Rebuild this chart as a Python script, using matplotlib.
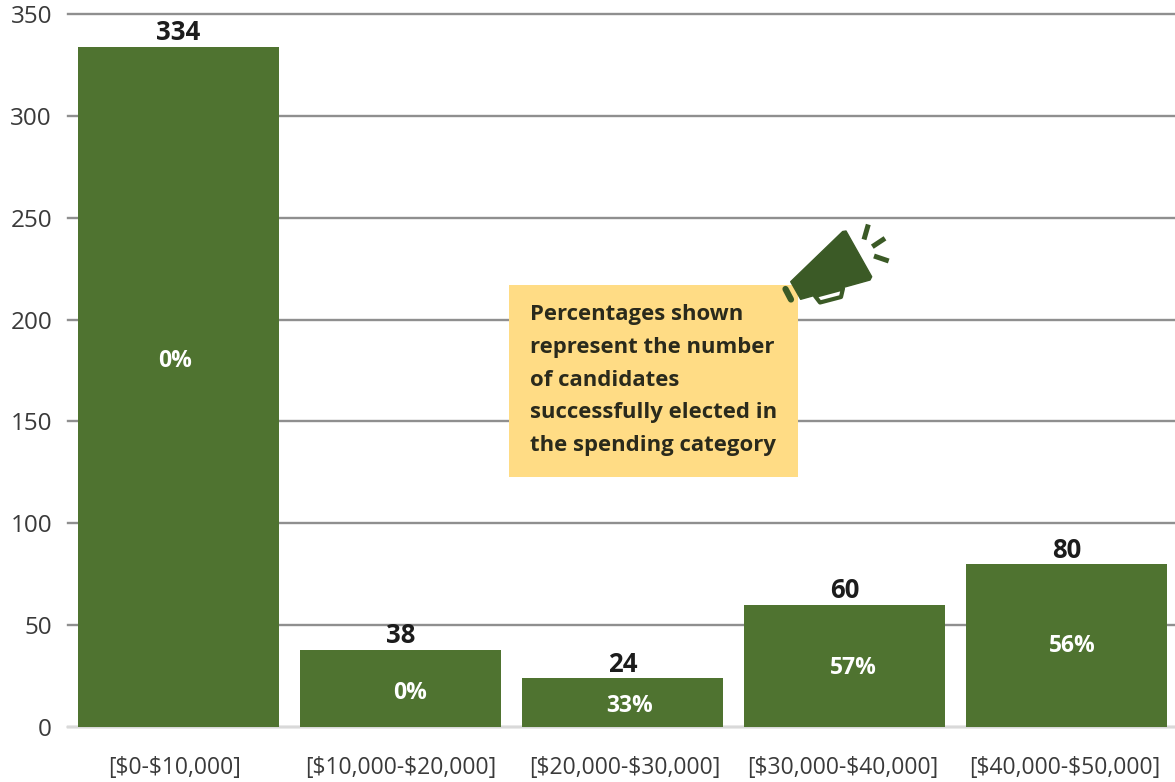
""" Candidates by campaign spending category, with share elected """

import matplotlib
matplotlib.use("Agg")
import matplotlib.pyplot as plt
from matplotlib.patches import Polygon, Rectangle

categories = ["[$0-$10,000]", "[$10,000-$20,000]", "[$20,000-$30,000]",
              "[$30,000-$40,000]", "[$40,000-$50,000]"]
candidates = [334, 38, 24, 60, 80]
electedPct = ["0%", "0%", "33%", "57%", "56%"]
yTicks = [0, 50, 100, 150, 200, 250, 300, 350]
noteLines = ["Percentages shown", "represent the number", "of candidates",
             "successfully elected in", "the spending category"]

# where the percentage labels sit inside each bar
pctHeights = [179.5, 16.5, 10.5, 29, 40]
pctOffsets = [-3, 10, 7, 9, 6]
# category labels are not quite centred under their bars
labelOffsets = [-4, 0, 2, -2, -2]

GREEN = "#4f7330"
DARK = "#3b5a26"
WIDTH = 1175
HEIGHT = 782

plt.rcParams["font.family"] = ["Open Sans", "DejaVu Sans"]
plt.rcParams["text.parse_math"] = False

fig = plt.figure(figsize=(WIDTH / 100, HEIGHT / 100), dpi=100)
ax = fig.add_axes([68 / WIDTH, 1 - 727 / HEIGHT, (WIDTH - 68) / WIDTH, 713 / HEIGHT])

positions = list(range(len(categories)))
ax.bar(positions, candidates, width=0.905, color=GREEN, zorder=3)
ax.set_xlim(-0.498, 4.49)
ax.set_ylim(0, 350)

ax.set_yticks(yTicks)
ax.set_xticks(positions)
ax.set_xticklabels([])
ax.tick_params(axis="y", length=0, pad=11.5, labelsize=17.5, labelcolor="#3a3a3a")
ax.tick_params(axis="x", length=0)
ax.grid(axis="y", color="#8f8f8f", linewidth=1.7, zorder=1)
for gridLine in ax.yaxis.get_gridlines():
    gridLine.set_clip_on(False)
for side in ["top", "right", "left"]:
    ax.spines[side].set_visible(False)
ax.spines["bottom"].set_color("#d9d9d9")
ax.spines["bottom"].set_linewidth(1.5)

for x, label, dx in zip(positions, categories, labelOffsets):
    ax.annotate(label, xy=(x, 0), xytext=(dx, -41), textcoords="offset pixels",
                ha="center", va="center", fontsize=16.5, color="#3a3a3a",
                annotation_clip=False)

for x, count, pct, pctY, dx in zip(positions, candidates, electedPct, pctHeights, pctOffsets):
    ax.annotate(str(count), xy=(x, count), xytext=(0, 14), textcoords="offset pixels",
                ha="center", va="center", fontsize=18.5, fontweight="bold",
                color="#1c1c1c", zorder=5, annotation_clip=False)
    ax.annotate(pct, xy=(x, pctY), xytext=(dx, 0), textcoords="offset pixels",
                ha="center", va="center", fontsize=16.5, fontweight="bold",
                color="white", zorder=5)

# overlay in picture pixels for the note and the megaphone icon
overlay = fig.add_axes([0, 0, 1, 1], facecolor="none")
overlay.set_xlim(0, WIDTH)
overlay.set_ylim(HEIGHT, 0)
overlay.axis("off")

overlay.add_patch(Rectangle((509, 285), 289, 192, facecolor="#ffdc85", edgecolor="none", zorder=2))
for i, line in enumerate(noteLines):
    overlay.text(530, 314.5 + i * 32.8, line, ha="left", va="center", fontsize=15.9,
                 fontweight="bold", color="#2a2a1c", zorder=3)

overlay.add_patch(Polygon([(790.7, 281.7), (842.7, 231.5), (846, 231), (871.7, 276.7),
                           (870, 280), (800.7, 299.3)],
                          closed=True, facecolor=DARK, edgecolor=DARK, linewidth=1,
                          joinstyle="round", zorder=4))
overlay.add_patch(Polygon([(815, 296), (820, 302.5), (841, 297), (843, 288.5)],
                          closed=True, facecolor="white", edgecolor=DARK, linewidth=3,
                          joinstyle="round", zorder=3))
overlay.plot([785.5, 791], [289, 299.5], color=DARK, linewidth=4.5, solid_capstyle="round", zorder=4)
overlay.plot([868.3, 864], [224.5, 239.5], color=DARK, linewidth=3.6, solid_capstyle="butt", zorder=4)
overlay.plot([885, 872.3], [238.3, 246.7], color=DARK, linewidth=3.6, solid_capstyle="butt", zorder=4)
overlay.plot([874, 888.7], [256, 261], color=DARK, linewidth=3.6, solid_capstyle="butt", zorder=4)

fig.savefig("out.png", dpi=100)
